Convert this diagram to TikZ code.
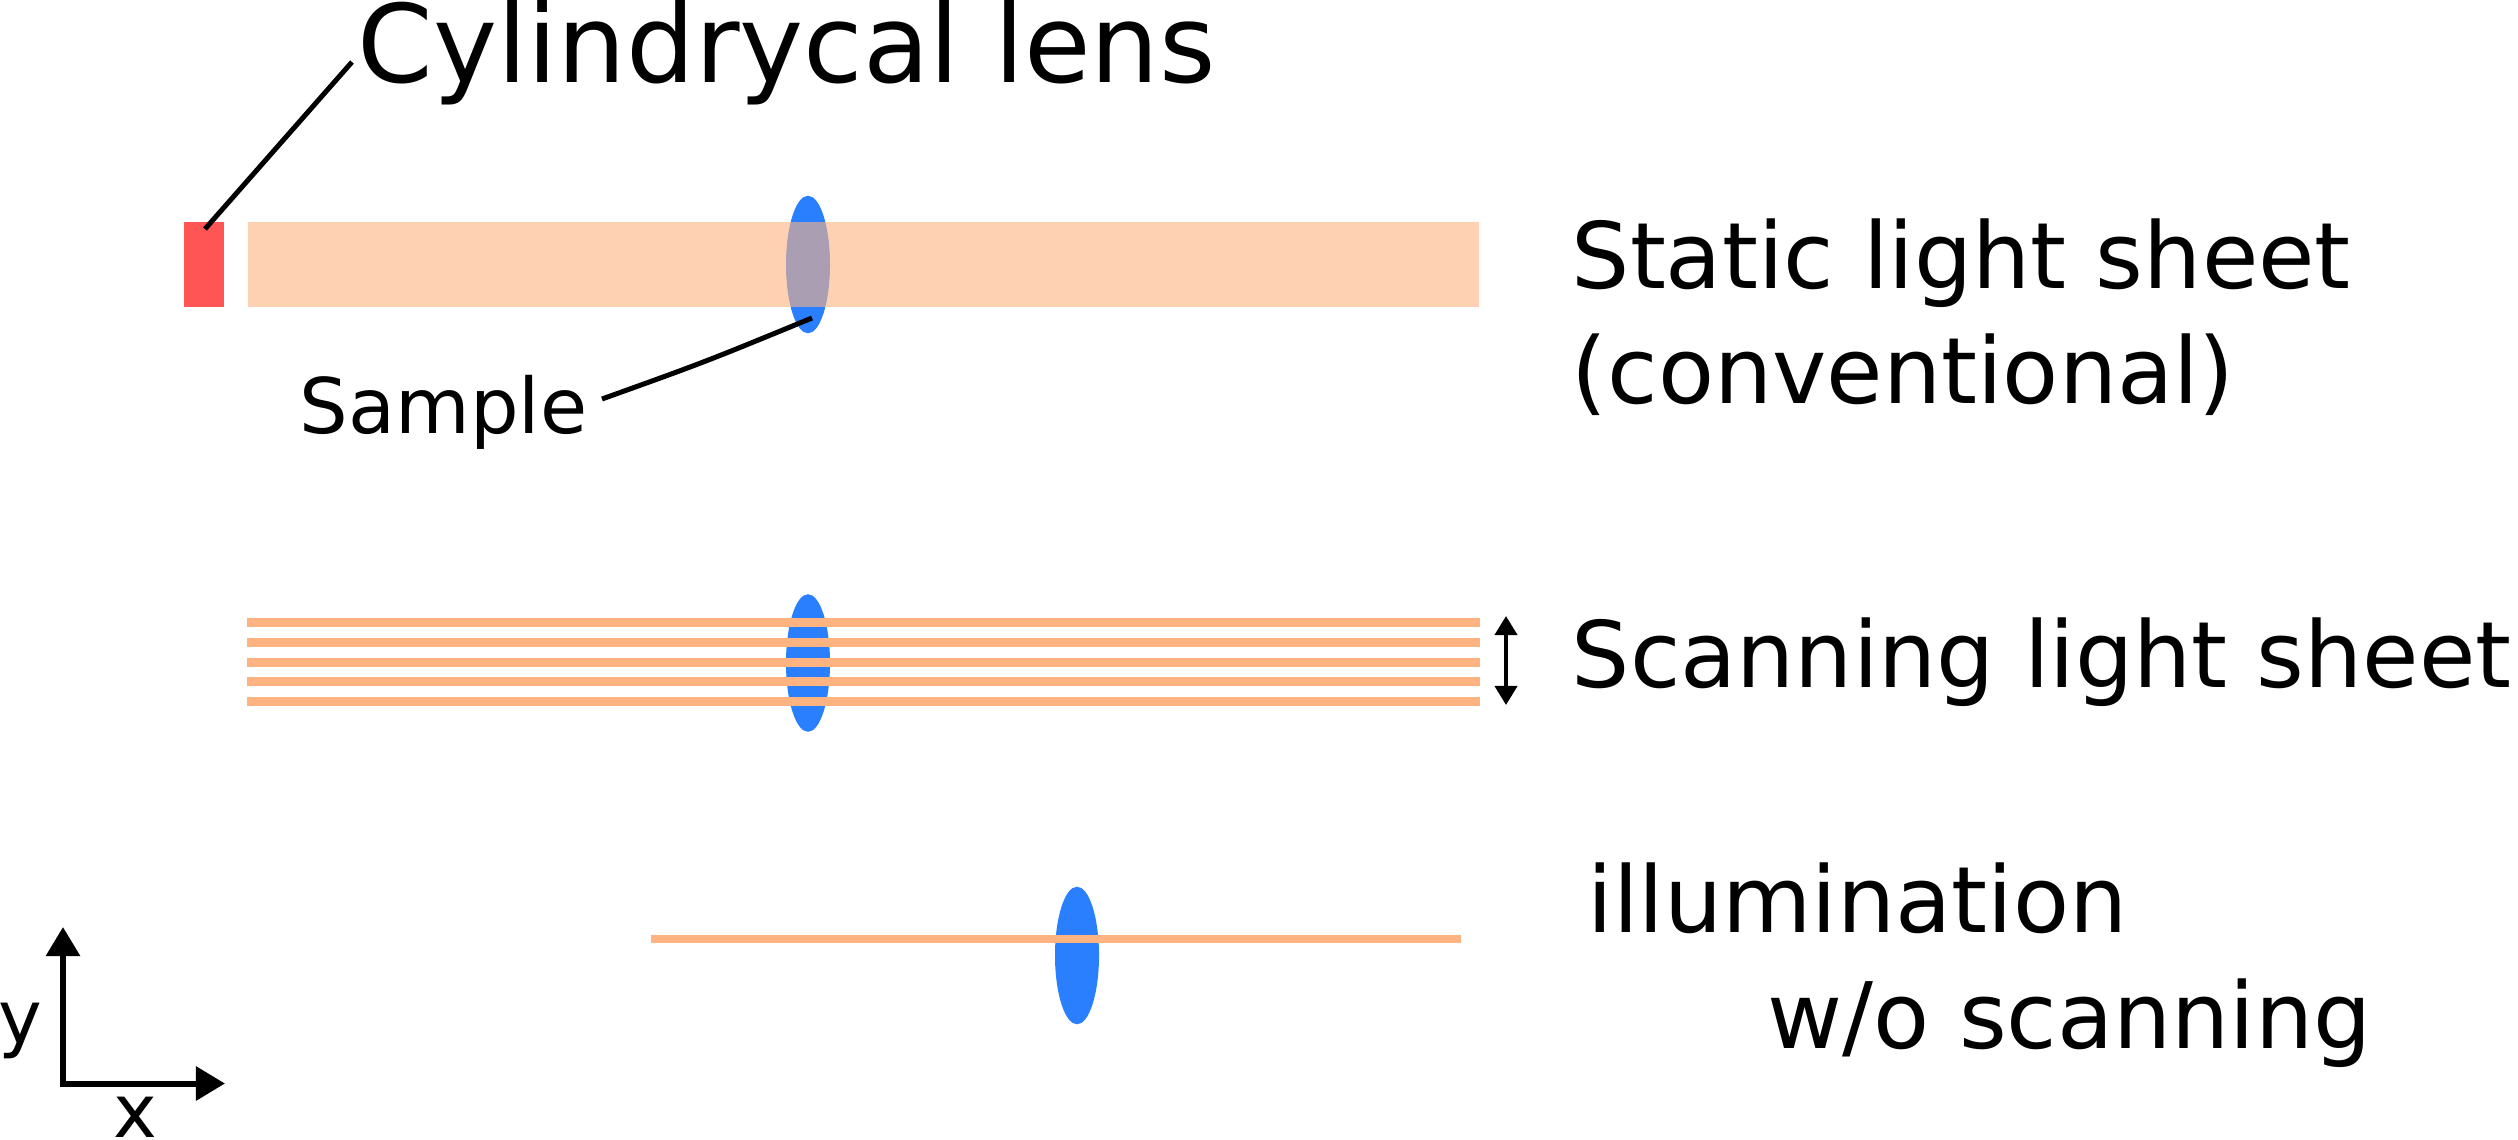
\documentclass[tikz,border=0pt]{standalone}
\usepackage{fontspec}
\setmainfont{DejaVu Sans}
\usetikzlibrary{arrows.meta,shapes.geometric}
\definecolor{lensred}{HTML}{FF5555}
\definecolor{sheetorange}{HTML}{FFB380}
\definecolor{sampleblue}{HTML}{2A7FFF}
\begin{document}
\begin{tikzpicture}[x=0.01cm,y=-0.01cm,
  samplebody/.style={ellipse,fill=sampleblue,draw=none,inner sep=0pt,minimum width=0.44cm,minimum height=1.375cm},
  sheetline/.style={draw=sheetorange,line width=2.56pt},
  leader/.style={draw=black,line width=1.42pt},
  lbl/.style={anchor=base west,inner sep=0pt,font=\fontsize{26.1}{32}\selectfont},
  axis/.style={draw=black,line width=1.71pt,line join=miter,arrows={Triangle[length=8.25pt,width=9.39pt]-Triangle[length=8.25pt,width=9.39pt]}},
  scanarrow/.style={draw=black,line width=1.14pt,arrows={Triangle[length=5.41pt,width=6.26pt]-Triangle[length=5.41pt,width=6.26pt]}}
]
\useasboundingbox (0,0) rectangle (2518,1139);

% ---- static light sheet ----
\node[samplebody] (s1) at (808,264.5) {};
\node[fill=lensred,inner sep=0pt,minimum width=0.403cm,minimum height=0.85cm] (lens) at (203.8,264.5) {};
\node[fill=sheetorange,fill opacity=0.6,inner sep=0pt,minimum width=12.31cm,minimum height=0.85cm] (band) at (863.5,264.5) {};

\node[anchor=base west,inner sep=0pt,font=\fontsize{30.8}{37}\selectfont] (title) at (357,82) {Cylindrycal lens};
\coordinate (lensend) at (205,229);
\coordinate (titleend) at (352,62);
\draw[leader] (lensend) -- (titleend);

\node[anchor=base west,inner sep=0pt,font=\fontsize{21.8}{26}\selectfont] (sample) at (299,433) {Sample};
\coordinate (samplestart) at (602,399);
\coordinate (sampleend) at (812,318);
\draw[leader] (samplestart) .. controls (705,362) .. (sampleend);

\node[lbl] (static) at (1571,288) {Static light sheet};
\node[lbl] (conv) at (1571,403) {(conventional)};

% ---- scanning light sheet ----
\node[samplebody] (s2) at (808,663) {};
\foreach \yy [count=\i] in {622,642,662,681.5,701}{
  \coordinate (l\i a) at (247,\yy);
  \coordinate (l\i b) at (1480,\yy);
  \draw[sheetline] (l\i a) -- (l\i b);
}
\coordinate (scantop) at (1506,616);
\coordinate (scanbot) at (1506,705);
\draw[scanarrow] (scantop) -- (scanbot);
\node[lbl] (scanning) at (1571,687) {Scanning light sheet};

% ---- illumination without scanning ----
\node[samplebody] (s3) at (1077,955.5) {};
\coordinate (ila) at (651,939);
\coordinate (ilb) at (1461,939);
\draw[draw=sheetorange,line width=2.28pt] (ila) -- (ilb);
\node[lbl] (illum) at (1587,932) {illumination};
\node[lbl] (wo) at (1767,1048) {w/o scanning};

% ---- axes ----
\coordinate (ytip) at (63,927);
\coordinate (corner) at (63,1083.5);
\coordinate (xtip) at (225,1083.5);
\draw[axis] (ytip) -- (corner) -- (xtip);
\node[anchor=base west,inner sep=0pt,font=\fontsize{21}{25}\selectfont] (ylab) at (-2,1043) {y};
\node[anchor=base west,inner sep=0pt,font=\fontsize{21}{25}\selectfont] (xlab) at (113,1137) {x};
\end{tikzpicture}
\end{document}
